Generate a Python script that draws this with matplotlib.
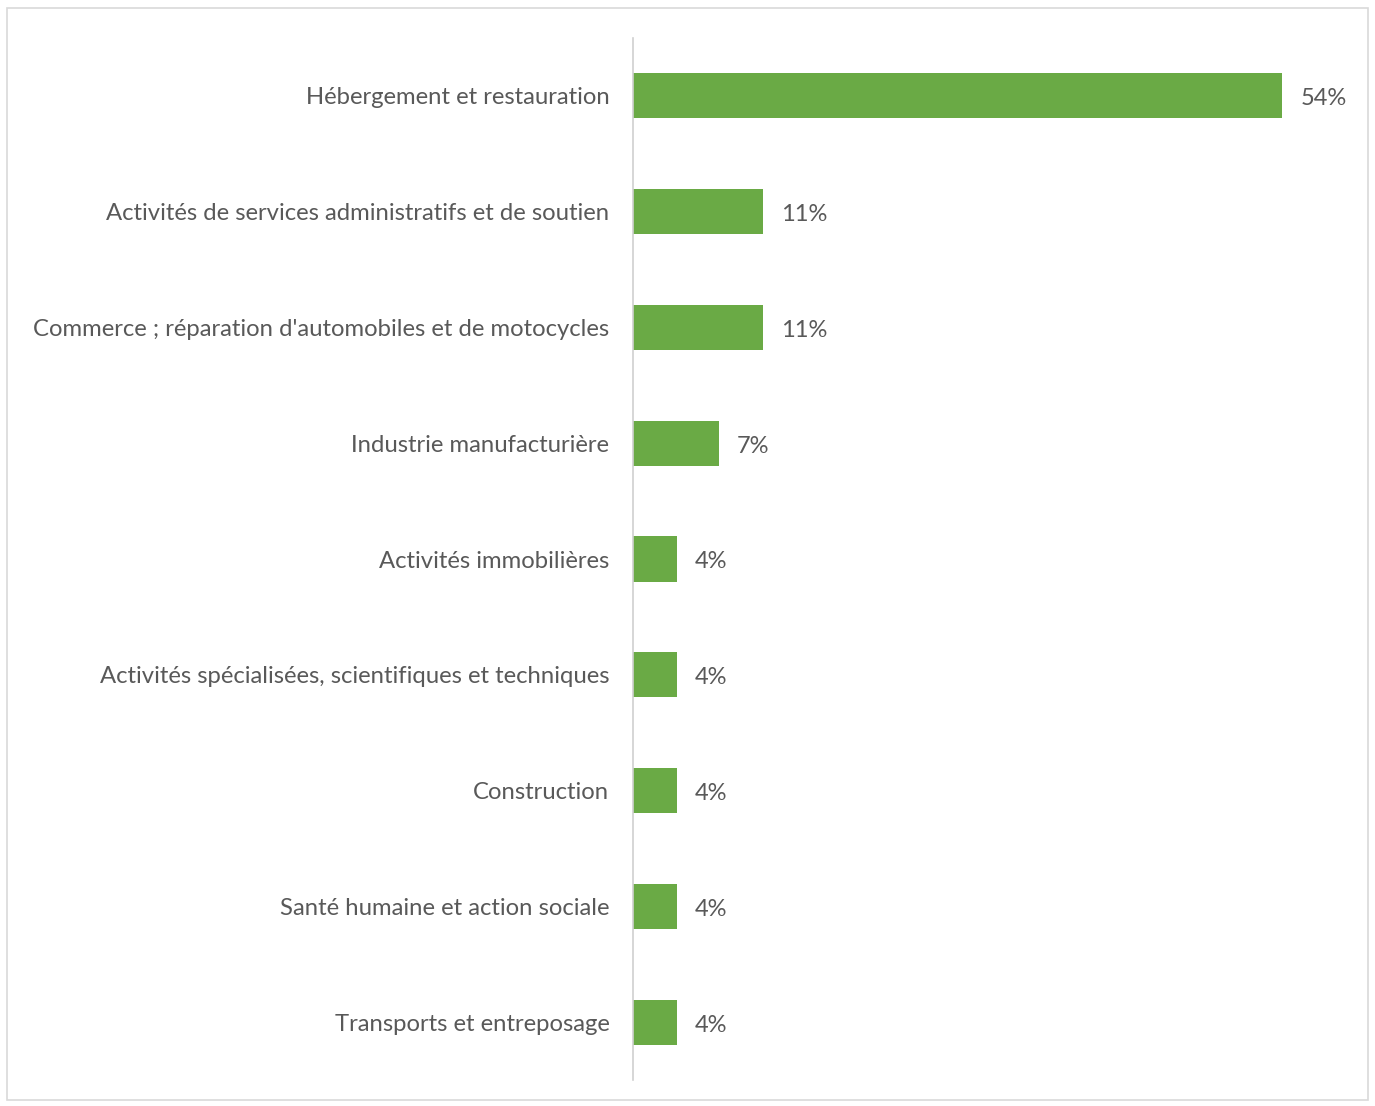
import matplotlib
matplotlib.use("Agg")
import matplotlib.pyplot as plt
from matplotlib.patches import Rectangle

categories = [
    "Hébergement et restauration",
    "Activités de services administratifs et de soutien",
    "Commerce ; réparation d'automobiles et de motocycles",
    "Industrie manufacturière",
    "Activités immobilières",
    "Activités spécialisées, scientifiques et techniques",
    "Construction",
    "Santé humaine et action sociale",
    "Transports et entreposage",
]
values = [53.6, 10.7, 10.7, 7.1, 3.6, 3.6, 3.6, 3.6, 3.6]
value_labels = ["54%", "11%", "11%", "7%", "4%", "4%", "4%", "4%", "4%"]

W, H = 1375, 1106
fig = plt.figure(figsize=(W / 100, H / 100), dpi=100)
fig.patch.set_facecolor("white")
fig.patches.append(Rectangle((7 / W, 1 - 1100 / H), (1368 - 7) / W, (1100 - 8) / H,
                             transform=fig.transFigure, fill=False,
                             edgecolor="#d9d9d9", linewidth=1.2))

ax = fig.add_axes([633 / W, 1 - 1080 / H, (1360 - 633) / W, (1080 - 38) / H])
ypos = list(range(len(categories)))
ax.barh(ypos, values, height=0.39, color="#6aaa45")
ax.set_ylim(len(categories) - 0.5, -0.5)
ax.set_xlim(0, 60)
ax.set_yticks(ypos)
ax.set_yticklabels(categories, fontsize=17.2, color="#595959", family="Lato")
ax.tick_params(axis="y", length=0, pad=17)
ax.set_xticks([])
for s in ["top", "right", "bottom"]:
    ax.spines[s].set_visible(False)
ax.spines["left"].set_color("#d0d0d0")
ax.spines["left"].set_linewidth(1.2)
for y, v, lab in zip(ypos, values, value_labels):
    ax.annotate(lab, (v, y), xytext=(18, -3), textcoords="offset pixels",
                va="center", ha="left", fontsize=17, color="#595959", family="Lato")

fig.savefig("out.png", dpi=100)
